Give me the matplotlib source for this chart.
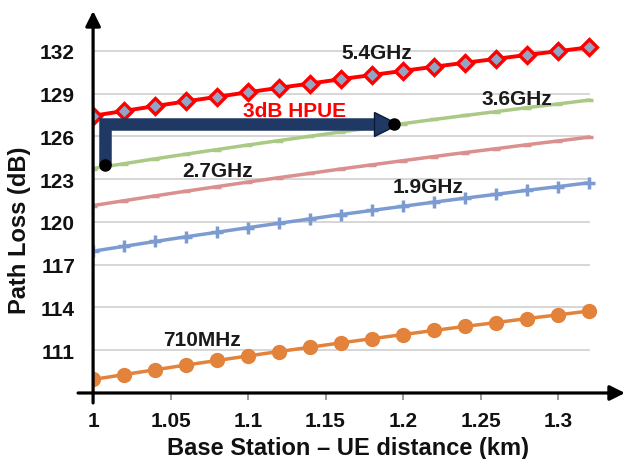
import matplotlib
matplotlib.use("Agg")
import matplotlib.pyplot as plt

plt.rcParams["font.family"] = ["Liberation Sans", "DejaVu Sans"]
plt.rcParams["font.weight"] = "bold"

# distances (km)
dist = [1.00, 1.02, 1.04, 1.06, 1.08, 1.10, 1.12, 1.14, 1.16,
        1.18, 1.20, 1.22, 1.24, 1.26, 1.28, 1.30, 1.32]

# path loss (dB)
pl_5400 = [127.45, 127.79, 128.13, 128.46, 128.78, 129.10, 129.41, 129.71, 130.02,
           130.31, 130.60, 130.89, 131.17, 131.44, 131.72, 131.98, 132.25]
pl_3600 = [123.75, 124.09, 124.43, 124.76, 125.08, 125.40, 125.71, 126.01, 126.32,
           126.61, 126.90, 127.19, 127.47, 127.74, 128.02, 128.28, 128.55]
pl_2700 = [121.15, 121.49, 121.83, 122.16, 122.48, 122.80, 123.11, 123.41, 123.72,
           124.01, 124.30, 124.59, 124.87, 125.14, 125.42, 125.68, 125.95]
pl_1900 = [117.95, 118.29, 118.63, 118.96, 119.28, 119.60, 119.91, 120.21, 120.52,
           120.81, 121.10, 121.39, 121.67, 121.94, 122.22, 122.48, 122.75]
pl_710 = [108.95, 109.29, 109.63, 109.96, 110.28, 110.60, 110.91, 111.21, 111.52,
          111.81, 112.10, 112.39, 112.67, 112.94, 113.22, 113.48, 113.75]

yticks = [111, 114, 117, 120, 123, 126, 129, 132]
xticks = [1, 1.05, 1.1, 1.15, 1.2, 1.25, 1.3]
xtick_labels = ["1", "1.05", "1.1", "1.15", "1.2", "1.25", "1.3"]

# HPUE arrow: start point, corner, end point
hpue_start = (1.008, 124.0)
hpue_corner = (1.008, 126.85)
hpue_end = (1.193, 126.85)

fig = plt.figure(figsize=(6.29, 4.6), dpi=100)
ax = fig.add_axes([0.148, 0.1435, 0.8456, 0.8304])
ax.set_xlim(1.0, 1.3432)
ax.set_ylim(108, 134.8)
for s in ax.spines.values():
    s.set_visible(False)

# gridlines
for yv in yticks:
    ax.plot([1.0, 1.32], [yv, yv], color="#d3d3d3", lw=1.3, zorder=1)

ax.set_yticks(yticks)
ax.set_xticks(xticks)
ax.set_xticklabels(xtick_labels)
ax.tick_params(axis="y", length=0, pad=13, labelsize=15, labelcolor="#111111")
ax.tick_params(axis="x", length=5, width=1.2, color="#888888", pad=8, labelsize=15,
               labelcolor="#111111")

# series
ax.plot(dist, pl_710, color="#e3823a", lw=2.5, marker="o", ms=10,
        mfc="#e3823a", mec="#e3823a", zorder=3)
ax.plot(dist, pl_1900, color="#7c9bd1", lw=2.5, marker="+", ms=8, mew=2.5, zorder=3)
ax.plot(dist, pl_2700, color="#d9908e", lw=2.5, marker="_", ms=6, mew=2.5, zorder=3)
ax.plot(dist, pl_3600, color="#aac985", lw=2.5, marker="_", ms=6, mew=2.5, zorder=3)
ax.plot(dist, pl_5400, color="#ff0000", lw=2.8, marker="D", ms=8.5, mew=2.4,
        mfc="#93a5c6", mec="#ff0000", zorder=4)

# axes arrows
ax.annotate("", xy=(1.3432, 108), xytext=(0.9903, 108), xycoords="data",
            arrowprops=dict(arrowstyle="-|>,head_length=0.9,head_width=0.45",
                            color="black", lw=2.3, shrinkA=0, shrinkB=0),
            annotation_clip=False, zorder=5)
ax.annotate("", xy=(1.0, 134.8), xytext=(1.0, 107.3), xycoords="data",
            arrowprops=dict(arrowstyle="-|>,head_length=0.9,head_width=0.45",
                            color="black", lw=2.3, shrinkA=0, shrinkB=0),
            annotation_clip=False, zorder=5)

# HPUE L-shaped arrow
navy = "#1f3864"
ax.plot([hpue_start[0], hpue_corner[0], hpue_end[0] - 0.008],
        [hpue_start[1], hpue_corner[1], hpue_end[1]],
        color=navy, lw=9, solid_joinstyle="miter", solid_capstyle="butt", zorder=6)
ax.plot([hpue_end[0] - 0.004], [hpue_end[1]], marker=">", ms=17, color=navy,
        mec="#0d1a33", zorder=6)
ax.plot([hpue_start[0], hpue_end[0] + 0.001], [hpue_start[1], hpue_end[1]],
        ls="none", marker="o", ms=8, color="black", zorder=7)

# labels
lab = dict(fontsize=15, fontweight="bold", ha="center", va="center")
ax.text(1.183, 131.9, "5.4GHz", color="#1a1a1a", **lab)
ax.text(1.2735, 128.65, "3.6GHz", color="#1a1a1a", **lab)
ax.text(1.08, 123.6, "2.7GHz", color="#1a1a1a", **lab)
ax.text(1.216, 122.5, "1.9GHz", color="#1a1a1a", **lab)
ax.text(1.0703, 111.77, "710MHz", color="#1a1a1a", **lab)
ax.text(1.13, 127.8, "3dB HPUE", color="#ff0000", **lab)

fig.text(20 / 629, 0.5, "Path Loss (dB)", rotation=90, fontsize=17,
         fontweight="bold", ha="center", va="center", color="#111111")
fig.text(348 / 629, 0.026, "Base Station \u2013 UE distance (km)", fontsize=17,
         fontweight="bold", ha="center", va="center", color="#111111")

fig.savefig("out.png", dpi=100)
